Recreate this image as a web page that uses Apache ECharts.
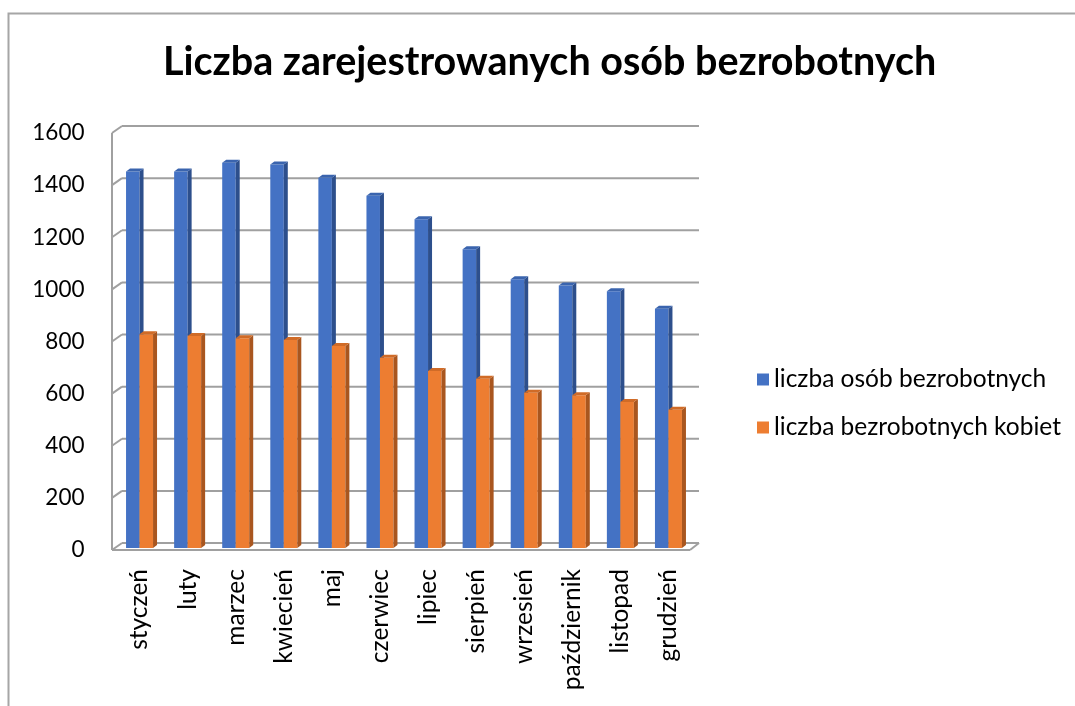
<!DOCTYPE html>
<html>
<head>
<meta charset="utf-8">
<script src="https://cdn.jsdelivr.net/npm/echarts@6/dist/echarts.min.js"></script>
<style>html,body{margin:0;padding:0;background:#fff}#c{width:1075px;height:706px}</style>
</head>
<body>
<div id="c"></div>
<script>
const titleText = 'Liczba zarejestrowanych osób bezrobotnych';
const months = ['styczeń','luty','marzec','kwiecień','maj','czerwiec','lipiec','sierpień','wrzesień','październik','listopad','grudzień'];
const seriesNames = ['liczba osób bezrobotnych','liczba bezrobotnych kobiet'];
const unemployed = [1445,1445,1478,1471,1421,1352,1261,1146,1031,1007,985,918];
const women = [820,813,805,798,775,730,679,649,596,586,560,530];
const yTicks = [0,200,400,600,800,1000,1200,1400,1600];

const FONT = 'Lato';
const chart = echarts.init(document.getElementById('c'), null, {renderer:'canvas'});

function barRenderer(side, front, sideCol, topCol) {
  return function (params, api) {
    const idx = api.value(0), v = api.value(1);
    const top = api.coord([idx, v]);
    const base = api.coord([idx, 0]);
    const w = 13.5, dx = 4, dy = 3;
    const x0 = side < 0 ? top[0] - w : top[0];
    const y0 = top[1] - 2, yb = base[1] - 2;
    return {
      type: 'group',
      children: [
        {type:'rect', shape:{x:x0, y:y0, width:w, height:yb - y0}, style:{fill:front}},
        {type:'polygon', shape:{points:[[x0+w,y0],[x0+w+dx,y0-dy],[x0+w+dx,yb-dy],[x0+w,yb]]}, style:{fill:sideCol}},
        {type:'polygon', shape:{points:[[x0,y0],[x0+dx,y0-dy],[x0+w+dx,y0-dy],[x0+w,y0]]}, style:{fill:topCol}}
      ]
    };
  };
}

function decorRenderer(params, api) {
  const v = api.value(1);
  const y = api.coord([0, v])[1];
  const cs = params.coordSys;
  const wallX = cs.x - 3.5, ddx = 10, ddy = 7;
  const frontR = cs.x + cs.width - 2.5;
  const backR = frontR + 9;
  const st = {stroke:'#a0a0a0', lineWidth:2, fill:null};
  const ch = [
    {type:'line', shape:{x1:wallX, y1:y, x2:wallX+ddx, y2:y-ddy}, style:st},
    {type:'line', shape:{x1:wallX+ddx, y1:y-ddy, x2:backR, y2:y-ddy}, style:st}
  ];
  if (v === yTicks[0]) {
    ch.push({type:'line', shape:{x1:wallX, y1:y, x2:frontR, y2:y}, style:st});
    ch.push({type:'line', shape:{x1:frontR, y1:y, x2:backR, y2:y-ddy}, style:st});
  }
  if (v === yTicks[yTicks.length-1]) {
    const yb = api.coord([0, yTicks[0]])[1];
    ch.push({type:'line', shape:{x1:wallX, y1:y, x2:wallX, y2:yb}, style:st});
  }
  return {type:'group', children:ch};
}

const option = {
  animation: false,
  backgroundColor: '#ffffff',
  title: {
    text: titleText, left: 158, top: 37,
    textStyle: {fontFamily: FONT, fontWeight: 'bold', fontSize: 39.5, color: '#000'}
  },
  graphic: [{
    type:'polyline', silent:true, z:100,
    shape:{points:[[8.5,706],[8.5,13.5],[1075,13.5]]},
    style:{stroke:'#a6a6a6', lineWidth:2, fill:null}
  }],
  legend: {
    orient: 'vertical', left: 752, top: 362, itemGap: 23,
    itemWidth: 12, itemHeight: 12, icon: 'rect',
    data: seriesNames,
    textStyle: {fontFamily: FONT, fontSize: 24.5, color: '#000'}
  },
  grid: {left: 115.5, width: 577, top: 133, height: 417, containLabel: false},
  xAxis: {
    type: 'category', data: months,
    axisLine: {show:false}, axisTick: {show:false},
    axisLabel: {rotate: 90, margin: 19, interval: 0, fontFamily: FONT, fontSize: 24.5, color: '#000'}
  },
  yAxis: {
    type: 'value', min: 0, max: 1600, interval: 200,
    axisLine: {show:false}, axisTick: {show:false}, splitLine: {show:false},
    axisLabel: {margin: 31, fontFamily: FONT, fontSize: 22.5, color: '#000', padding:[5,0,0,0],
      formatter: v => String(v)}
  },
  series: [
    {
      type:'custom', name:'decor', silent:true, z:1, clip:false,
      data: yTicks.map(v => [0, v]), encode:{x:0, y:1},
      renderItem: decorRenderer
    },
    {
      type:'custom', name: seriesNames[0], z:2, clip:false,
      itemStyle:{color:'#4472C4'},
      data: unemployed.map((v,i) => [i, v]), encode:{x:0, y:1},
      renderItem: barRenderer(-1, '#4472C4', '#2D4F8C', '#3A64AE')
    },
    {
      type:'custom', name: seriesNames[1], z:3, clip:false,
      itemStyle:{color:'#ED7D31'},
      data: women.map((v,i) => [i, v]), encode:{x:0, y:1},
      renderItem: barRenderer(1, '#ED7D31', '#A9561F', '#D06B27')
    }
  ]
};
chart.setOption(option);
</script>
</body>
</html>
